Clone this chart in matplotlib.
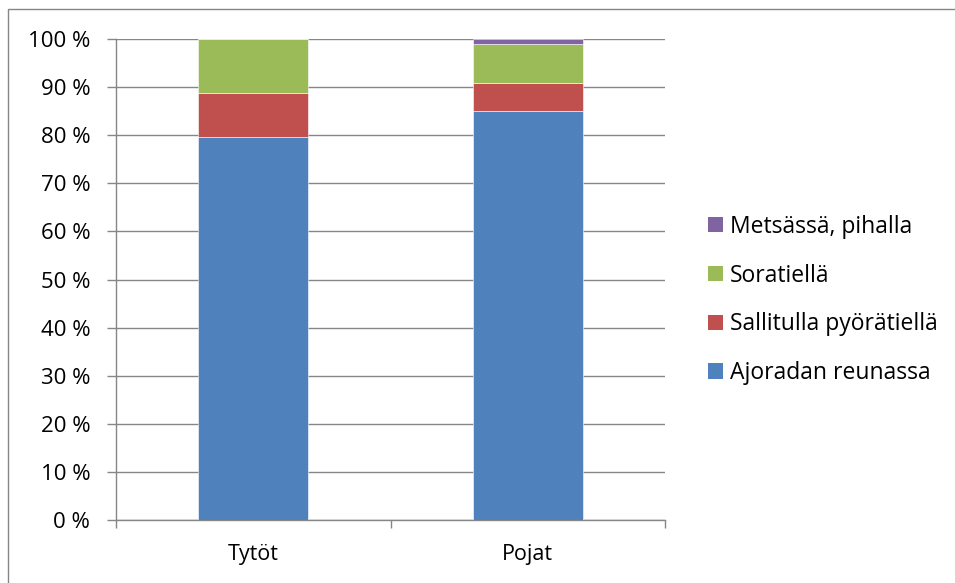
import matplotlib
matplotlib.use("Agg")
import matplotlib.pyplot as plt
import numpy as np
from matplotlib.patches import Rectangle, Patch
from matplotlib.ticker import FixedLocator, FuncFormatter

plt.rcParams['font.family'] = ['Open Sans', 'DejaVu Sans']

categories = ["Tytöt", "Pojat"]
series_names = ["Ajoradan reunassa", "Sallitulla pyörätiellä", "Soratiellä", "Metsässä, pihalla"]
ajoradan = [79.7, 85.0]
sallitulla = [9.1, 5.9]
soratiella = [11.2, 8.1]
metsassa = [0.0, 1.0]
colors = ["#4F81BD", "#C0504D", "#9BBB59", "#8064A2"]
y_ticks = [0, 10, 20, 30, 40, 50, 60, 70, 80, 90, 100]

W, H = 955, 583
fig = plt.figure(figsize=(W / 100, H / 100), dpi=100)
fig.patch.set_facecolor("white")

# outer chart frame (runs off the right and bottom edges)
fig.patches.append(Rectangle((8 / W, -0.1), 1.2, (H - 9) / H + 0.1,
                             transform=fig.transFigure, fill=False,
                             edgecolor="#868686", linewidth=1.0))

ax = fig.add_axes([116 / W, (H - 520) / H, (665 - 116) / W, (520 - 39) / H])

x = np.arange(len(categories))
bottom = np.zeros(len(categories))
for vals, name, c in zip([ajoradan, sallitulla, soratiella, metsassa], series_names, colors):
    ax.bar(x, vals, width=0.4, bottom=bottom, color=c, label=name,
           edgecolor="#ffffff", linewidth=0.4, zorder=3)
    bottom += np.array(vals)

ax.set_xlim(-0.5, 1.5)
ax.set_ylim(0, 100)
ax.set_yticks(y_ticks)
ax.yaxis.set_major_formatter(FuncFormatter(lambda v, p: f"{int(v)} %"))
ax.yaxis.grid(True, color="#868686", linewidth=1.0, zorder=0)
ax.set_axisbelow(True)

ax.set_xticks(x)
ax.set_xticklabels(categories)
ax.xaxis.set_minor_locator(FixedLocator([-0.5, 0.5, 1.5]))
ax.tick_params(axis="x", which="major", length=0, pad=17, labelsize=15.5)
ax.tick_params(axis="x", which="minor", length=6, color="#868686", width=1.0)
ax.tick_params(axis="y", length=6.5, color="#868686", width=1.0, pad=12, labelsize=16)

for s in ["top", "right"]:
    ax.spines[s].set_visible(False)
for s in ["left", "bottom"]:
    ax.spines[s].set_color("#868686")
    ax.spines[s].set_linewidth(1.0)

handles = [Patch(facecolor=c, edgecolor="none") for c in colors][::-1]
labels = series_names[::-1]
fig.legend(handles, labels, loc="center left", bbox_to_anchor=(699 / W, 1 - 300 / H),
           frameon=False, fontsize=16.5, handlelength=0.65, handleheight=0.65,
           handletextpad=0.3, labelspacing=1.08, borderaxespad=0)

fig.savefig("out.png", dpi=100, facecolor="white")
